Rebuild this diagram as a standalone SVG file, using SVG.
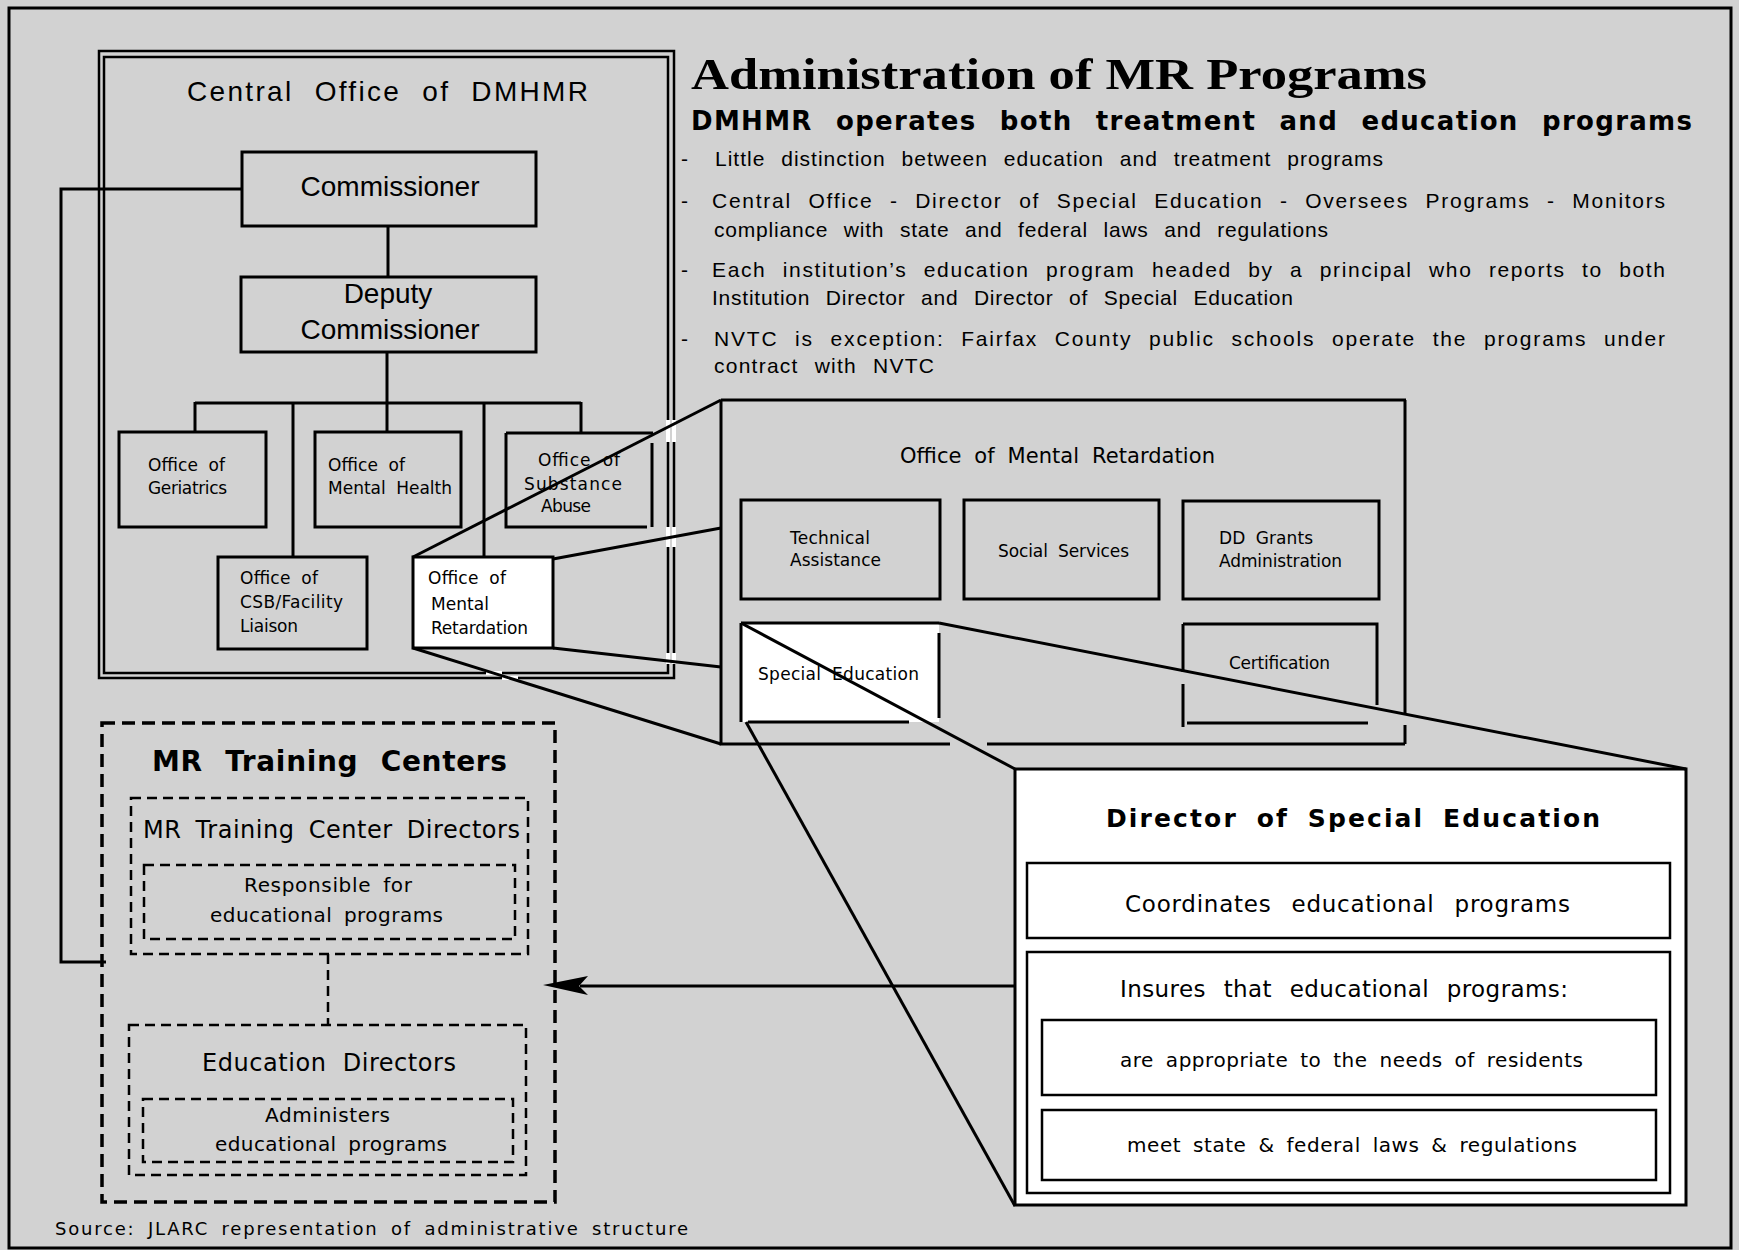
<svg xmlns="http://www.w3.org/2000/svg" width="1739" height="1254" viewBox="0 0 1739 1254">
<style>
.bx{fill:none;stroke:#000;stroke-width:3}
.bx2{fill:none;stroke:#000;stroke-width:2.5}
.wb{fill:#fff;stroke:#000;stroke-width:3}
.ln{fill:none;stroke:#000;stroke-width:3}
.gap{fill:none;stroke:#fff;stroke-width:4}
.d1{fill:none;stroke:#000;stroke-width:3.5;stroke-dasharray:13 7}
.d2{fill:none;stroke:#000;stroke-width:2.5;stroke-dasharray:10 6}
.s{font-family:"Liberation Sans",Arial,sans-serif;fill:#000}
.w{font-family:"DejaVu Sans","Liberation Sans",sans-serif;fill:#000}
.b{font-weight:bold}
.f17{font-size:17px;word-spacing:5px}
.f20{font-size:20px;word-spacing:5px}
.fb{font-size:21px;word-spacing:9px}
.f22{font-size:21px;word-spacing:6px}
.m{text-anchor:middle}
</style>
<rect x="0" y="0" width="1739" height="1254" fill="#d2d2d2"/>
<rect x="0" y="1250" width="1739" height="4" fill="#fff"/>
<rect x="9" y="8" width="1722" height="1240" class="bx"/>

<g id="header">
<text class="b" x="691" y="89" font-family="'Liberation Serif',serif" font-size="44" textLength="736" lengthAdjust="spacingAndGlyphs">Administration of MR Programs</text>
<text class="w b" x="691" y="130" font-size="26" word-spacing="13" textLength="1001">DMHMR operates both treatment and education programs</text>
<g class="s fb">
<text x="681" y="166">-</text>
<text x="715" y="166" textLength="668">Little distinction between education and treatment programs</text>
<text x="681" y="208">-</text>
<text x="712" y="208" textLength="953">Central Office - Director of Special Education - Oversees Programs - Monitors</text>
<text x="714" y="237" textLength="614">compliance with state and federal laws and regulations</text>
<text x="681" y="277">-</text>
<text x="712" y="277" textLength="953">Each institution’s education program headed by a principal who reports to both</text>
<text x="712" y="305" textLength="581">Institution Director and Director of Special Education</text>
<text x="681" y="346">-</text>
<text x="714" y="346" textLength="951">NVTC is exception: Fairfax County public schools operate the programs under</text>
<text x="714" y="373" textLength="220">contract with NVTC</text>
</g>
</g>

<g id="central-office">
<rect x="99" y="51" width="575" height="627" class="bx2"/>
<rect x="104" y="57" width="564" height="616" class="bx2"/>
<text class="s" x="187" y="101" font-size="28" word-spacing="11" textLength="401">Central Office of DMHMR</text>
</g>
<g id="commissioner">
<rect x="242" y="152" width="294" height="74" class="bx"/>
<text class="s m" x="390" y="196" font-size="28">Commissioner</text>
</g>
<g id="deputy">
<rect x="241" y="277" width="295" height="75" class="bx"/>
<text class="s m" x="388" y="303" font-size="28">Deputy</text>
<text class="s m" x="390" y="339" font-size="28">Commissioner</text>
</g>
<g id="geriatrics">
<rect x="119" y="432" width="147" height="95" class="bx"/>
<text class="w f17" x="148" y="471" textLength="77">Office of</text>
<text class="w f17" x="148" y="494" textLength="79">Geriatrics</text>
</g>
<g id="mental-health">
<rect x="315" y="432" width="146" height="95" class="bx"/>
<text class="w f17" x="328" y="471" textLength="77">Office of</text>
<text class="w f17" x="328" y="494" textLength="124">Mental Health</text>
</g>
<g id="substance-abuse">
<path d="M506,433 H653 M652,443 V527 M647,527 H506 V433" class="bx"/>
<text class="w f17" x="538" y="466" textLength="82">Office of</text>
<text class="w f17" x="524" y="490" textLength="98">Substance</text>
<text class="w f17" x="541" y="512" textLength="50">Abuse</text>
</g>
<g id="csb">
<rect x="218" y="557" width="149" height="92" class="bx"/>
<text class="w f17" x="240" y="584" textLength="78">Office of</text>
<text class="w f17" x="240" y="608" textLength="103">CSB/Facility</text>
<text class="w f17" x="240" y="632" textLength="58">Liaison</text>
</g>
<g id="mental-retardation-small">
<rect x="413" y="557" width="140" height="91" class="wb"/>
<text class="w f17" x="428" y="584" textLength="78">Office of</text>
<text class="w f17" x="431" y="610" textLength="58">Mental</text>
<text class="w f17" x="431" y="634" textLength="97">Retardation</text>
</g>

<g id="omr-big">
<path d="M721,400 H1406 M1405,400 V713 M1405,725 V744 M1405,744 H987 M950,744 H721 V400" class="bx"/>
<text class="w f22" x="900" y="463" textLength="315">Office of Mental Retardation</text>
</g>
<g id="technical">
<rect x="741" y="500" width="199" height="99" class="bx"/>
<text class="w f17" x="790" y="544" textLength="80">Technical</text>
<text class="w f17" x="790" y="566" textLength="91">Assistance</text>
</g>
<g id="social">
<rect x="964" y="500" width="195" height="99" class="bx"/>
<text class="w f17" x="998" y="557" textLength="131">Social Services</text>
</g>
<g id="dd-grants">
<rect x="1183" y="501" width="196" height="98" class="bx"/>
<text class="w f17" x="1219" y="544" textLength="94">DD Grants</text>
<text class="w f17" x="1219" y="567" textLength="123">Administration</text>
</g>
<g id="special-ed">
<rect x="741" y="623" width="198" height="99" fill="#fff"/>
<path d="M741,623 H939 M939,633 V718 M909,722 H748 M741,722 V623" class="bx"/>
<text class="w f17" x="758" y="680" textLength="161">Special Education</text>
</g>
<g id="certification">
<path d="M1183,624 H1377 V705 M1368,723 H1187 M1183,727 V684 M1183,672 V624" class="bx"/>
<text class="w f17" x="1229" y="669" textLength="101">Certification</text>
</g>

<g id="director">
<rect x="1015" y="769" width="671" height="436" class="wb" stroke-width="3.5"/>
<text class="w b" x="1106" y="827" font-size="25" word-spacing="8" textLength="494">Director of Special Education</text>
<rect x="1027" y="863" width="643" height="75" class="bx2"/>
<text class="w" x="1125" y="912" font-size="23" word-spacing="12" textLength="445">Coordinates educational programs</text>
<rect x="1027" y="952" width="643" height="241" class="bx2"/>
<text class="w" x="1120" y="997" font-size="23" word-spacing="10" textLength="448">Insures that educational programs:</text>
<rect x="1042" y="1020" width="614" height="75" class="bx2"/>
<text class="w f20" x="1120" y="1067" textLength="463">are appropriate to the needs of residents</text>
<rect x="1042" y="1110" width="614" height="70" class="bx2"/>
<text class="w f20" x="1127" y="1152" textLength="450">meet state &amp; federal laws &amp; regulations</text>
</g>

<g id="mr-training-centers">
<rect x="102" y="723" width="453" height="479" fill="#fff" class="d1"/>
<text class="w b" x="152" y="771" font-size="28" word-spacing="12" textLength="355">MR Training Centers</text>
<rect x="131" y="798" width="397" height="156" class="d2"/>
<text class="w" x="143" y="838" font-size="24" word-spacing="6" textLength="377">MR Training Center Directors</text>
<rect x="144" y="865" width="371" height="74" class="d2"/>
<text class="w f20" x="244" y="892" textLength="168">Responsible for</text>
<text class="w f20" x="210" y="922" textLength="233">educational programs</text>
<line x1="328" y1="954" x2="328" y2="1025" class="d2"/>
<rect x="129" y="1025" width="397" height="150" class="d2"/>
<text class="w" x="202" y="1071" font-size="24" word-spacing="8" textLength="254">Education Directors</text>
<rect x="143" y="1099" width="370" height="63" class="d2"/>
<text class="w f20" x="265" y="1122" textLength="125">Administers</text>
<text class="w f20" x="215" y="1151" textLength="232">educational programs</text>
</g>

<g id="connectors">
<line x1="388" y1="226" x2="388" y2="277" class="ln"/>
<line x1="387" y1="352" x2="387" y2="432" class="ln"/>
<line x1="195" y1="403" x2="581" y2="403" class="ln"/>
<line x1="195" y1="402" x2="195" y2="432" class="ln"/>
<line x1="581" y1="402" x2="581" y2="433" class="ln"/>
<line x1="293" y1="403" x2="293" y2="557" class="ln"/>
<line x1="484" y1="403" x2="484" y2="557" class="ln"/>
<polyline points="242,189 61,189 61,962 106,962" class="ln"/>
<line x1="1015" y1="986" x2="580" y2="986" class="ln"/>
<path d="M543,985 L588,976 L579,986 L588,995 Z" fill="#000"/>
<path d="M668,420 V442 M674,420 V442 M668,527 V547 M674,527 V547 M668,653 V664 M674,653 V664 M486,673 H502 M502,678 H518" class="gap"/>
<line x1="413" y1="557" x2="721" y2="400" class="ln"/>
<line x1="553" y1="559" x2="721" y2="528" class="ln"/>
<line x1="553" y1="648" x2="721" y2="667" class="ln"/>
<line x1="413" y1="648" x2="721" y2="744" class="ln"/>
<line x1="741" y1="623" x2="1015" y2="769" class="ln"/>
<line x1="939" y1="623" x2="1686" y2="769" class="ln"/>
<line x1="746" y1="722" x2="1015" y2="1206" class="ln"/>
</g>

<text class="w" x="55" y="1235" font-size="18" word-spacing="5" textLength="633">Source: JLARC representation of administrative structure</text>
</svg>
